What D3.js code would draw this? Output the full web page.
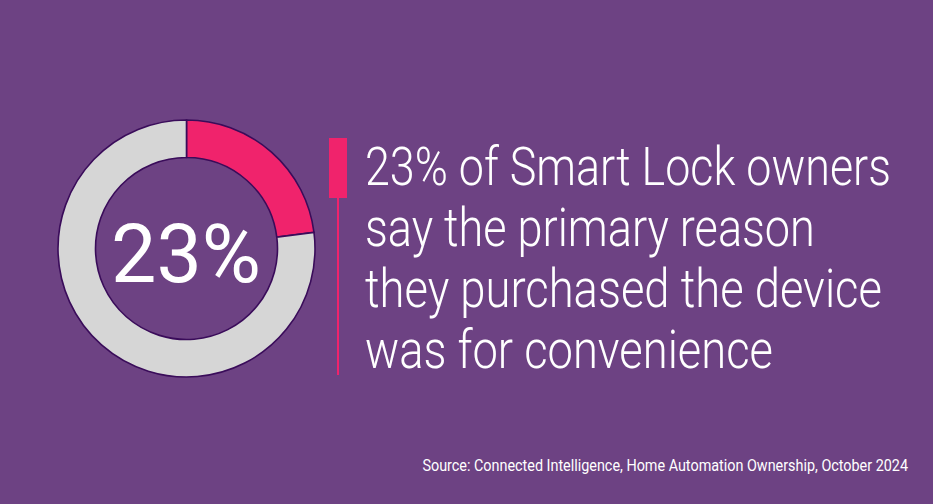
<!DOCTYPE html>
<html><head><meta charset="utf-8">
<script src="https://cdn.jsdelivr.net/npm/d3@7"></script>
<style>html,body{margin:0;padding:0;background:#6d4283;}svg{display:block;}</style>
</head><body>
<svg id="c" width="933" height="504"></svg>
<script>
const categories = ["Convenience", "Other reasons"];
const values = [23, 77];
const centerLabel = ["23%"];
const headlineLines = ["23% of Smart Lock owners", "say the primary reason", "they purchased the device", "was for convenience"];
const headlineWidths = [526, 450, 517, 408];
const sourceText = ["Source: Connected Intelligence, Home Automation Ownership, October 2024"];

const svg = d3.select("#c");
svg.append("rect").attr("width", 933).attr("height", 504).attr("fill", "#6d4283");

const color = d3.scaleOrdinal().domain(categories).range(["#f0236c", "#d6d6d6"]);
const pie = d3.pie().sort(null).value(d => d.v);
const arc = d3.arc().innerRadius(91).outerRadius(128.5);
const data = categories.map((c, i) => ({c, v: values[i]}));

const g = svg.append("g").attr("transform", "translate(186.5,248.5)");
g.selectAll("path").data(pie(data)).join("path")
  .attr("d", arc).attr("fill", d => color(d.data.c))
  .attr("stroke", "#3a0c5a").attr("stroke-width", 1.6);

g.append("text").text(centerLabel[0])
  .attr("x", -0.5).attr("y", 33).attr("text-anchor", "middle")
  .attr("font-family", "Roboto").attr("font-weight", 400).attr("font-size", 81)
  .attr("fill", "#ffffff").attr("textLength", 150).attr("lengthAdjust", "spacingAndGlyphs");

// accent bar
svg.append("rect").attr("x", 329).attr("y", 138).attr("width", 18).attr("height", 60).attr("fill", "#f0236c");
svg.append("line").attr("x1", 338).attr("x2", 338).attr("y1", 198).attr("y2", 375)
  .attr("stroke", "#f0236c").attr("stroke-width", 2);

function condensed(parent, str, x, y, width, size, weight, anchor) {
  const gg = parent.append("g");
  const t = gg.append("text").text(str)
    .attr("font-family", "Roboto").attr("font-weight", weight).attr("font-size", size)
    .attr("fill", "#ffffff").attr("text-anchor", anchor);
  const w = t.node().getComputedTextLength();
  gg.attr("transform", `translate(${x},${y}) scale(${width / w},1)`);
}

const y0 = 185, dy = 61;
headlineLines.forEach((d, i) => condensed(svg, d, 365, y0 + i * dy, headlineWidths[i], 53, 300, "start"));
condensed(svg, sourceText[0], 908, 471, 486, 17, 400, "end");
</script>
</body></html>
